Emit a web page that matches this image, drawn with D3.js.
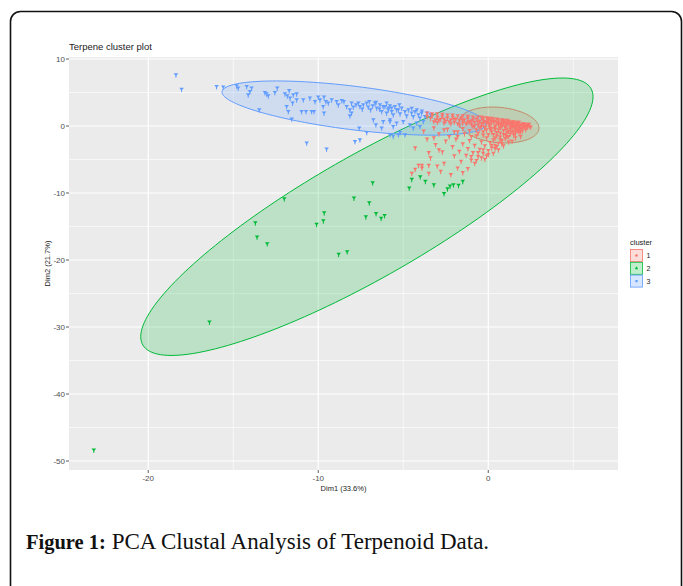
<!DOCTYPE html>
<html>
<head>
<meta charset="utf-8">
<script src="https://cdn.jsdelivr.net/npm/d3@7"></script>
<style>
  body { margin: 0; background: #fff; }
  svg { display: block; }
</style>
</head>
<body>
<svg id="chart" width="683" height="586"></svg>
<script>
// cluster 1 (red)
const cluster1 = [
  [-3.6,1.4],[-3.4,1.1],[-3.3,1.5],[-3.1,0.9],[-3.0,1.3],[-2.8,1.0],[-2.7,1.4],[-2.5,0.7],[-2.4,1.2],[-2.2,0.9],
  [-2.1,1.3],[-2.0,0.5],[-1.9,1.0],[-1.7,0.8],[-1.6,1.2],[-1.5,0.4],[-1.4,0.9],[-1.2,1.1],[-1.1,0.6],[-1.0,0.2],
  [-0.9,0.9],[-0.8,0.5],[-0.7,1.0],[-0.6,0.1],[-0.5,0.7],[-0.4,0.3],[-0.3,0.9],[-0.2,-0.2],[-0.1,0.5],[0.0,0.8],
  [0.1,0.2],[0.2,-0.4],[0.3,0.6],[0.4,0.0],[0.5,0.4],[0.6,-0.6],[0.7,0.3],[0.8,-0.1],[0.9,0.5],[1.0,-0.3],
  [1.1,0.2],[1.2,-0.8],[1.3,0.1],[1.4,-0.2],[1.5,0.3],[1.6,-0.5],[1.7,0.0],[1.8,-0.2],[1.9,0.1],[2.0,-0.4],
  [2.1,-0.1],[2.2,0.0],[2.3,-0.2],[2.4,-0.1],[2.5,-0.2],
  [-3.6,1.9],[-3.3,1.8],[-3.0,1.8],[-2.7,1.7],[-2.4,1.6],[-2.1,1.6],[-1.8,1.5],[-1.5,1.5],[-1.2,1.4],[-0.9,1.3],
  [-0.6,1.3],[-0.3,1.2],[0.0,1.1],[0.3,1.0],[0.6,0.9],[0.9,0.8],[1.2,0.7],[1.5,0.6],[1.8,0.5],[2.1,0.3],[2.4,0.2],
  [-3.2,0.6],[-2.9,0.8],[-2.6,0.4],[-2.3,0.6],[-2.0,1.0],[-1.8,0.3],[-1.5,0.8],[-1.2,0.5],[-1.0,0.7],[-0.8,0.0],
  [-0.6,0.6],[-0.4,-0.1],[-0.2,0.6],[0.0,0.3],[0.2,0.5],[0.4,-0.3],[0.6,0.5],[0.8,0.2],[1.0,0.6],[1.1,-0.5],
  [1.3,0.4],[1.5,-0.1],[1.7,0.3],[1.9,-0.4],[2.1,0.1],[2.3,0.1],
  [-0.7,-0.6],[-0.3,-0.9],[0.1,-0.2],[0.3,-1.3],[0.7,-1.1],[1.0,-1.3],[1.4,-0.9],[1.8,-0.6],[-1.1,-0.7],[-1.5,-0.4],
  [-2.0,-0.9],[-2.6,-0.6],[-1.0,-1.6],[-1.8,-1.6],
  [-0.3,0.4],[0.1,0.9],[0.4,0.7],[0.6,0.1],[0.8,0.6],[1.0,0.3],[1.2,0.4],[1.4,0.2],[1.6,0.2],[1.8,0.1],
  [2.0,0.0],[2.2,-0.3],[1.7,-0.7],[1.3,-0.5],[0.9,-0.7],[0.5,-1.0],[0.2,-0.9],[-0.1,-0.6],[-0.5,-0.3],[-0.9,-0.1],
  [-1.3,0.3],[-1.7,0.1],[-2.2,0.3],[-2.6,1.0],[-3.0,0.5],[-0.6,-1.1],[0.0,-1.3],[0.4,-1.8],[-0.3,-1.4],
  [2.0,-0.8],[1.8,-1.0],[1.6,-1.1],[1.5,-1.4],[1.3,-1.2],[1.2,-1.6],[1.0,-1.9],[1.1,-1.0],[0.9,-1.3],[0.8,-2.2],
  [0.7,-1.7],[0.6,-2.6],[0.5,-1.5],[0.4,-2.9],[0.3,-2.1],[0.2,-3.3],[0.1,-2.5],[0.0,-3.7],[-0.1,-1.8],[-0.2,-3.0],
  [-0.3,-4.1],[-0.4,-2.4],[-0.5,-3.5],[-0.6,-4.6],[-0.7,-1.5],[-0.8,-2.9],[-0.9,-4.0],[-1.0,-5.1],[-1.1,-2.2],[-1.2,-3.4],
  [-1.3,-4.4],[-1.4,-1.2],[-1.5,-2.7],[-1.6,-5.3],[-1.7,-3.8],[-1.8,-0.9],[-1.9,-2.0],[-2.0,-4.5],[-2.1,-3.1],[-2.3,-1.6],
  [-2.4,-0.5],[-2.5,-2.3],[-2.6,-5.6],[-2.7,-3.9],[-2.9,-1.2],[-3.0,-6.0],[-3.1,-2.8],[-3.2,-0.3],[-3.4,-4.8],[-3.6,-2.0],
  [-3.8,-0.8],[-3.9,-6.3],[-4.1,-5.9],[-4.3,-3.3],[-4.5,-7.1],[-1.2,-6.4],[-1.8,-6.3],[-2.2,-7.3],[-0.8,-5.6],[0.3,-4.1],
  [0.9,-3.0],[1.4,-2.3],[1.9,-1.6],[0.6,-3.6],[-0.2,-5.0],[-2.8,-6.8],[-3.5,-7.1],[-1.5,-7.0],[-4.3,-6.5],[-3.9,-5.9],
  [-3.5,-5.9],[-3.5,-4.0],[-3.2,-1.8],[-2.9,-3.6],
  [1.6,-1.8],[1.2,-2.4],[0.8,-2.7],[0.4,-3.4],[0.0,-4.3],[-0.4,-4.8],[-0.7,-5.2],[-0.3,-3.6],[0.2,-2.9],[0.7,-2.1],
  [1.1,-1.6],[-0.6,-4.0],[-1.0,-4.6],[-0.1,-4.5],[0.5,-3.1],
  [2.3,0.2],[2.0,0.3],[1.7,0.5],[1.4,0.6],[1.1,0.8],[0.8,0.9],[0.5,1.0],[0.2,1.1],[-0.1,1.2],[-0.4,1.3],
  [1.6,-0.3],[1.3,-0.2],[1.0,-0.1],[0.7,-0.3],[0.4,-0.6],[0.1,-0.5],[-0.2,-0.3],[2.2,-0.6],[1.9,-0.9],[1.5,-0.8]
];

// cluster 2 (green)
const cluster2 = [
  [-23.2,-48.4],[-16.4,-29.3],[-13.0,-17.6],[-12.0,-10.9],[-13.7,-14.5],[-13.6,-16.6],[-10.1,-14.7],[-9.7,-14.2],
  [-9.65,-13.0],[-8.8,-19.2],[-8.3,-18.8],[-7.9,-10.8],[-7.0,-11.5],[-6.8,-8.5],[-6.6,-13.1],[-6.3,-13.8],
  [-6.1,-13.4],[-7.2,-13.6],[-4.65,-9.3],[-4.5,-8.0],[-4.0,-7.6],[-3.7,-8.3],[-3.2,-8.8],[-2.6,-10.1],
  [-2.25,-9.0],[-2.05,-8.8],[-1.75,-8.9],[-1.5,-8.3],[-2.4,-9.4]
];

// cluster 3 (blue)
const cluster3 = [
  [-18.37,7.6],[-18.04,5.46],[-15.98,5.85],[-15.59,5.76],[-14.80,5.95],[-14.71,5.61],[-14.21,5.85],[-13.92,5.61],
  [-14.02,5.10],[-14.12,4.61],[-13.14,4.96],[-13.04,4.76],[-12.94,4.46],[-12.55,4.96],[-12.41,5.61],[-11.96,4.76],
  [-11.82,4.46],[-11.71,5.25],[-11.66,4.12],[-11.47,4.61],[-11.27,4.76],[-11.27,3.87],[-11.51,3.38],[-11.86,2.87],
  [-11.76,2.13],[-13.47,2.38],[-10.98,2.13],[-10.72,2.13],[-10.39,2.13],[-10.25,2.13],[-10.88,3.87],[-10.49,4.12],
  [-10.19,3.62],[-10.0,4.27],[-9.90,3.87],[-9.66,4.27],[-9.55,3.62],[-9.71,2.87],[-9.66,1.89],[-9.41,3.38],
  [-9.21,3.87],[-8.92,3.62],[-8.82,3.13],[-8.62,3.76],[-8.49,3.62],[-8.33,2.87],[-8.14,2.38],[-8.04,3.38],
  [-7.94,2.78],[-7.78,3.13],[-7.64,3.38],[-7.55,2.87],[-7.41,2.48],[-7.35,3.13],[-7.15,3.38],[-7.06,2.78],
  [-6.92,2.38],[-6.80,2.98],[-6.66,3.38],[-6.56,2.63],[-6.37,3.13],[-6.27,2.13],[-6.18,2.87],[-5.98,3.38],
  [-5.88,2.63],[-5.78,2.98],[-5.68,2.13],[-5.49,2.87],[-5.39,2.38],[-5.23,3.13],[-8.14,1.49],[-8.04,1.89],
  [-7.59,-0.34],[-7.15,-1.0],[-6.76,0.89],[-6.61,0.15],[-6.27,-0.34],[-5.78,0.64],[-5.59,-0.1],[-5.29,-1.34],
  [-10.68,-2.57],[-9.51,-3.47],[-7.84,-2.34],[-7.55,-2.08],[-11.56,1.0],
  [-6.08,2.87],[-5.88,2.38],[-5.68,2.63],[-5.29,2.38],[-5.09,2.63],[-4.90,2.13],[-4.70,2.38],[-4.51,1.89],
  [-4.31,2.13],[-4.11,1.64],[-3.92,1.89],[-3.72,1.38],[-5.98,1.89],[-5.59,1.64],[-5.19,1.79],[-4.80,1.49],
  [-4.41,1.38],[-4.02,1.15],[-5.78,0.89],[-5.39,0.40],[-5.0,0.64],[-4.61,0.15],[-4.21,0.40],[-3.82,0.64],
  [-5.78,-1.34],[-5.59,-1.59],[-5.19,-1.0],[-4.90,-1.34],[-4.41,-0.34],[-4.02,-0.1],[-6.18,0.64],
  [-4.5,2.6],[-4.2,2.4],[-3.9,2.2],[-3.6,1.9],[-3.4,1.7],[-6.6,3.5],[-7.0,3.6],[-6.4,2.5]
];

// concentration ellipses: centre and two conjugate half-axes, in data units
const clusterNames = ['1', '2', '3'];
const clusterColors = ['#F8766D', '#00BA38', '#619CFF'];
const ellipseCentres = [[0.63, 0.15], [-7.14, -13.54], [-7.9, 2.68]];
const ellipseAxisU = [[2.35, -0.45], [13.3, 17.9], [7.76, -2.38]];
const ellipseAxisV = [[0, 2.64], [0, 10.4], [0, 3.27]];

const xTicks = [-20, -10, 0];
const xMinor = [-15, -5, 5];
const yTicks = [10, 0, -10, -20, -30, -40, -50];
const yMinor = [5, -5, -15, -25, -35, -45];

const svg = d3.select('#chart');

// outer frame
svg.append('rect')
  .attr('x', 10.5).attr('y', 11.5)
  .attr('width', 671).attr('height', 620)
  .attr('rx', 10)
  .attr('fill', 'none')
  .attr('stroke', '#111')
  .attr('stroke-width', 1.6);

const pLeft = 69, pRight = 618, pTop = 57, pBottom = 470;
const x = d3.scaleLinear().domain([-24.66, 7.63]).range([pLeft, pRight]);
const y = d3.scaleLinear().domain([-51.34, 10.3]).range([pBottom, pTop]);

svg.append('rect')
  .attr('x', pLeft).attr('y', pTop)
  .attr('width', pRight - pLeft).attr('height', pBottom - pTop)
  .attr('fill', '#EBEBEB');

svg.append('clipPath').attr('id', 'panel')
  .append('rect')
  .attr('x', pLeft).attr('y', pTop)
  .attr('width', pRight - pLeft).attr('height', pBottom - pTop);

const grid = svg.append('g');
grid.selectAll('.xmin').data(xMinor).join('line')
  .attr('x1', d => x(d)).attr('x2', d => x(d))
  .attr('y1', pTop).attr('y2', pBottom)
  .attr('stroke', '#fff').attr('stroke-width', 0.6);
grid.selectAll('.ymin').data(yMinor).join('line')
  .attr('y1', d => y(d)).attr('y2', d => y(d))
  .attr('x1', pLeft).attr('x2', pRight)
  .attr('stroke', '#fff').attr('stroke-width', 0.6);
grid.selectAll('.xmaj').data(xTicks).join('line')
  .attr('x1', d => x(d)).attr('x2', d => x(d))
  .attr('y1', pTop).attr('y2', pBottom)
  .attr('stroke', '#fff').attr('stroke-width', 1.2);
grid.selectAll('.ymaj').data(yTicks).join('line')
  .attr('y1', d => y(d)).attr('y2', d => y(d))
  .attr('x1', pLeft).attr('x2', pRight)
  .attr('stroke', '#fff').attr('stroke-width', 1.2);

const plot = svg.append('g').attr('clip-path', 'url(#panel)');

// ellipses, drawn in cluster order so later fills tint earlier outlines
const angles = d3.range(0, 2 * Math.PI, Math.PI / 90);
const ellipseLine = d3.line().curve(d3.curveLinearClosed);
[0, 1, 2].forEach(i => {
  const c = ellipseCentres[i], u = ellipseAxisU[i], v = ellipseAxisV[i];
  const pts = angles.map(t => [
    x(c[0] + u[0] * Math.cos(t) + v[0] * Math.sin(t)),
    y(c[1] + u[1] * Math.cos(t) + v[1] * Math.sin(t))
  ]);
  plot.append('path')
    .attr('d', ellipseLine(pts))
    .attr('fill', clusterColors[i])
    .attr('fill-opacity', 0.2)
    .attr('stroke', clusterColors[i])
    .attr('stroke-width', 1);
});

// points (small point + label blob)
const marker = 'M-2.3,-1.8H2.3L0,1.2Z';
const drawPoints = (data, color) => {
  const g = plot.append('g');
  g.selectAll('g').data(data).join('g')
    .attr('transform', d => `translate(${x(d[0])},${y(d[1])})`)
    .call(sel => {
      sel.append('path').attr('d', marker).attr('fill', color);
      sel.append('line')
        .attr('x1', 0).attr('x2', 0).attr('y1', 0).attr('y2', 2.6)
        .attr('stroke', color).attr('stroke-width', 1);
    });
};
drawPoints(cluster3, clusterColors[2]);
drawPoints(cluster2, clusterColors[1]);
drawPoints(cluster1, clusterColors[0]);

// axes
const tickColor = '#333', labelColor = '#4D4D4D';
const xAxis = svg.append('g');
xAxis.selectAll('line').data(xTicks).join('line')
  .attr('x1', d => x(d)).attr('x2', d => x(d))
  .attr('y1', pBottom).attr('y2', pBottom + 3)
  .attr('stroke', tickColor).attr('stroke-width', 0.8);
xAxis.selectAll('text').data(xTicks).join('text')
  .attr('x', d => x(d)).attr('y', pBottom + 11)
  .attr('text-anchor', 'middle')
  .attr('font-family', 'Liberation Sans, Arial, sans-serif')
  .attr('font-size', 8)
  .attr('fill', labelColor)
  .text(d => d);

const yAxis = svg.append('g');
yAxis.selectAll('line').data(yTicks).join('line')
  .attr('x1', pLeft - 3).attr('x2', pLeft)
  .attr('y1', d => y(d)).attr('y2', d => y(d))
  .attr('stroke', tickColor).attr('stroke-width', 0.8);
yAxis.selectAll('text').data(yTicks).join('text')
  .attr('x', pLeft - 4).attr('y', d => y(d) + 3)
  .attr('text-anchor', 'end')
  .attr('font-family', 'Liberation Sans, Arial, sans-serif')
  .attr('font-size', 8)
  .attr('fill', labelColor)
  .text(d => d);

svg.append('text')
  .attr('x', (pLeft + pRight) / 2).attr('y', 491)
  .attr('text-anchor', 'middle')
  .attr('font-family', 'Liberation Sans, Arial, sans-serif')
  .attr('font-size', 7.5)
  .attr('fill', '#222')
  .text('Dim1 (33.6%)');

svg.append('text')
  .attr('transform', `translate(49.5,${(pTop + pBottom) / 2}) rotate(-90)`)
  .attr('text-anchor', 'middle')
  .attr('font-family', 'Liberation Sans, Arial, sans-serif')
  .attr('font-size', 7.5)
  .attr('fill', '#222')
  .text('Dim2 (21.7%)');

svg.append('text')
  .attr('x', pLeft).attr('y', 50)
  .attr('font-family', 'Liberation Sans, Arial, sans-serif')
  .attr('font-size', 9.5)
  .attr('fill', '#222')
  .text('Terpene cluster plot');

// legend
const legend = svg.append('g').attr('transform', 'translate(630,245)');
legend.append('text')
  .attr('x', 0).attr('y', 0)
  .attr('font-family', 'Liberation Sans, Arial, sans-serif')
  .attr('font-size', 7.5)
  .attr('fill', '#222')
  .text('cluster');
const keyShapes = [d3.symbolCircle, d3.symbolTriangle, d3.symbolSquare];
const keys = legend.selectAll('g').data(clusterNames).join('g')
  .attr('transform', (d, i) => `translate(0.5,${4.5 + i * 12.8})`);
keys.append('rect')
  .attr('width', 12).attr('height', 12)
  .attr('fill', (d, i) => clusterColors[i])
  .attr('fill-opacity', 0.25)
  .attr('stroke', (d, i) => clusterColors[i])
  .attr('stroke-width', 0.8);
keys.append('path')
  .attr('transform', 'translate(6,6)')
  .attr('d', (d, i) => d3.symbol(keyShapes[i], 5)())
  .attr('fill', (d, i) => clusterColors[i]);
keys.append('text')
  .attr('x', 16).attr('y', 8.5)
  .attr('font-family', 'Liberation Sans, Arial, sans-serif')
  .attr('font-size', 7)
  .attr('fill', '#222')
  .text(d => d);

// caption
const caption = svg.append('text')
  .attr('x', 26).attr('y', 549)
  .attr('font-family', 'Liberation Serif, Times New Roman, serif')
  .attr('fill', '#111');
caption.append('tspan').attr('font-weight', 'bold').attr('font-size', 20.5).text('Figure 1:');
caption.append('tspan').attr('font-size', 23).text(' PCA Clustal Analysis of Terpenoid Data.');
</script>
</body>
</html>
